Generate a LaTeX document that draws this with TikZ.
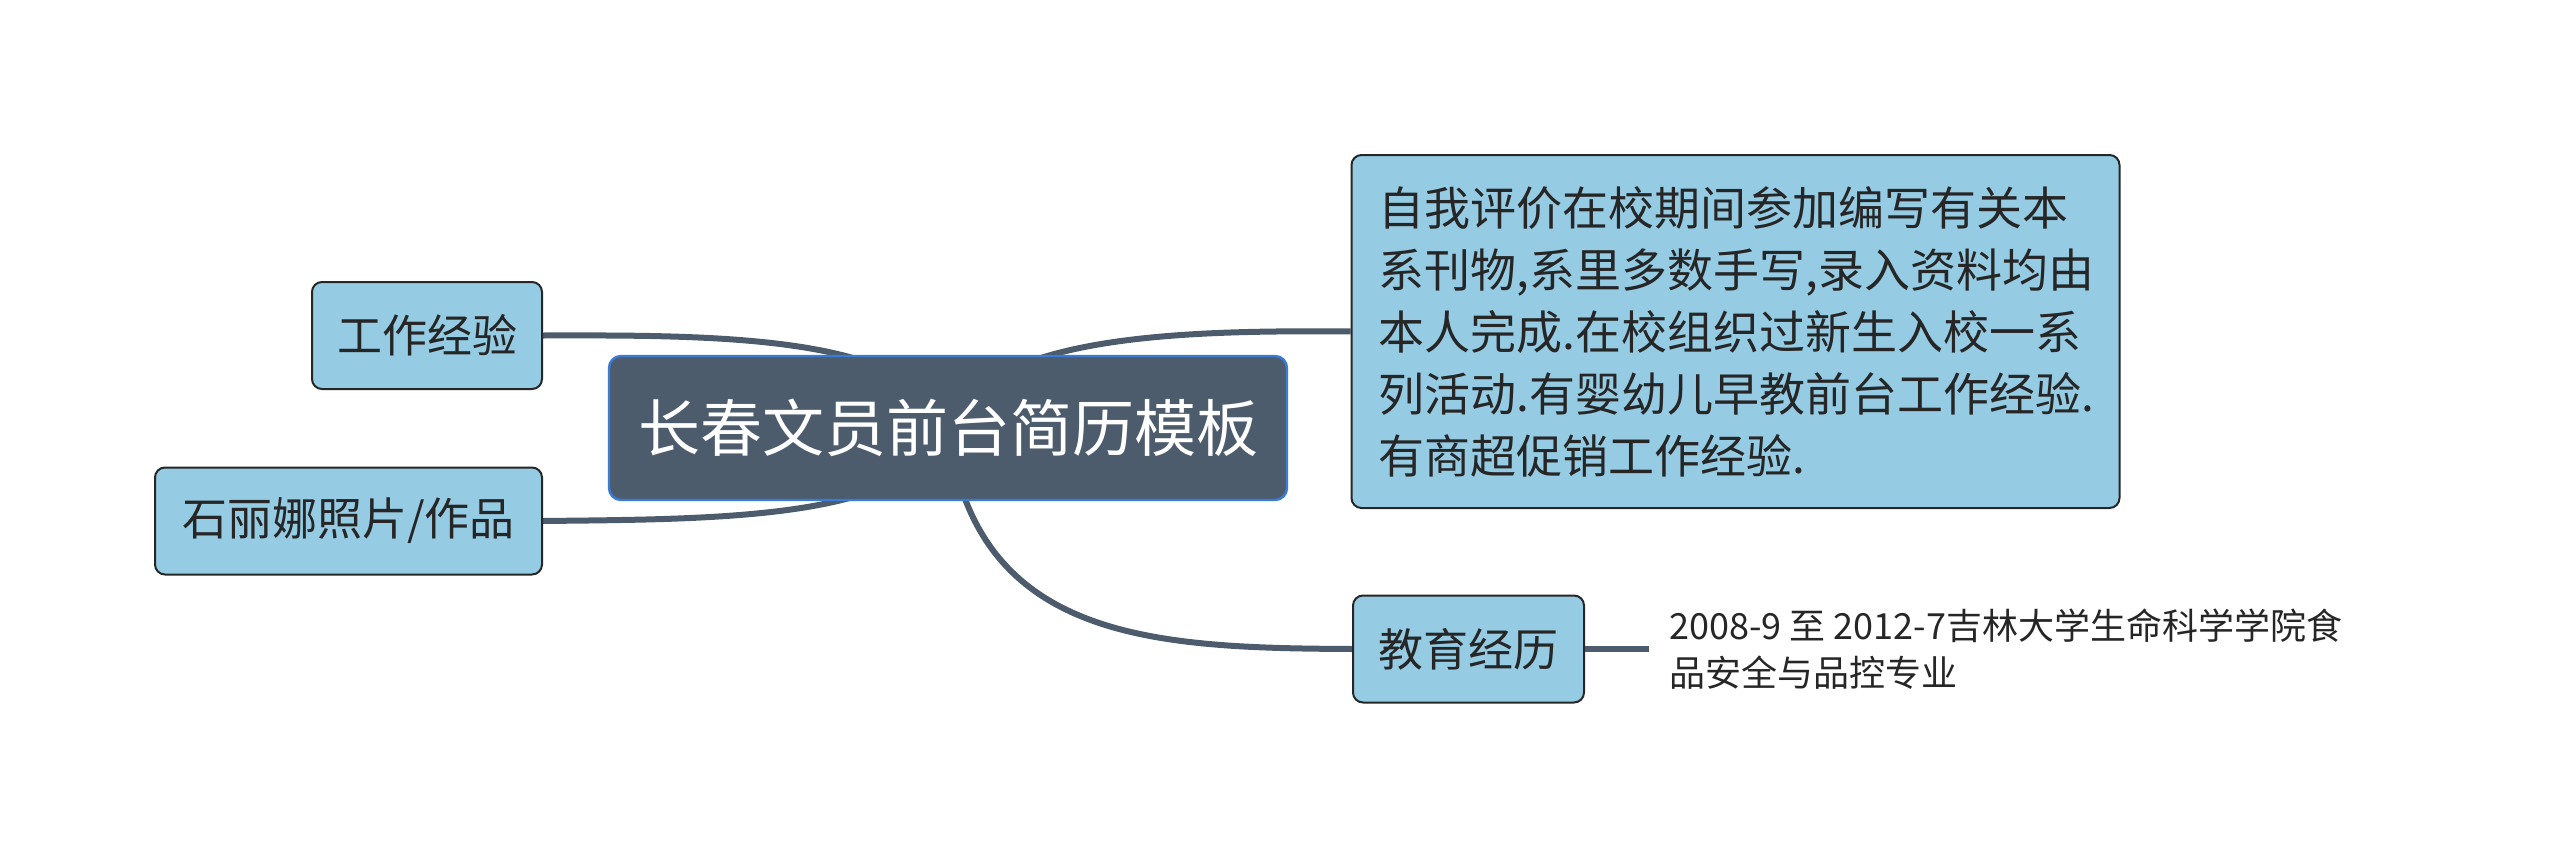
\documentclass[tikz,border=0pt]{standalone}
\usepackage{fontspec}
\setmainfont{Noto Sans CJK SC}
\usetikzlibrary{backgrounds}
\definecolor{rootfill}{HTML}{4D5C6D}
\definecolor{rootborder}{HTML}{3A7BD5}
\definecolor{boxfill}{HTML}{95CCE4}
\definecolor{linecol}{HTML}{4D5C6D}
\definecolor{txt}{HTML}{262626}
\begin{document}
\begin{tikzpicture}[x=0.5pt,y=-0.5pt,
  rootbox/.style={draw=rootborder, line width=1.2pt, fill=rootfill, rounded corners=6pt,
    text=white, font=\fontsize{31}{36}\selectfont, minimum width=339pt, minimum height=72pt, inner sep=0pt},
  topicbox/.style={draw=black!85, line width=1pt, fill=boxfill, rounded corners=5pt,
    text=txt, font=\fontsize{22.5}{27}\selectfont, minimum height=53.5pt, inner sep=0pt},
  conn/.style={draw=linecol, line width=3pt},
  plain/.style={text=txt, font=\fontsize{18}{23.5}\selectfont, align=left, inner xsep=10pt, inner ysep=0pt}
]
\useasboundingbox (0,0) rectangle (2560,867);
\node[rootbox] (root) at (948,428) {长春文员前台简历模板};
\node[topicbox, minimum width=115pt] (work) at (427,335.5) {工作经验};
\node[topicbox, minimum width=193.5pt] (photo) at (348.5,521) {石丽娜照片/作品};
\node[topicbox, minimum width=382.5pt, minimum height=176.5pt, align=left,
  font=\fontsize{23}{31}\selectfont, text width=357pt, inner xsep=13.5pt] (eval) at (1735.5,331.5)
  {自我评价在校期间参加编写有关本\\系刊物,系里多数手写,录入资料均由\\本人完成.在校组织过新生入校一系\\列活动.有婴幼儿早教前台工作经验.\\有商超促销工作经验.};
\node[topicbox, minimum width=115.5pt] (edu) at (1468.5,649) {教育经历};
\node[plain, anchor=west] (edutext) at (1649,649) {2008-9 至 2012-7吉林大学生命科学学院食\\品安全与品控专业};
\begin{scope}[on background layer]
\draw[conn] (root.center) .. controls (915,335) and (720,335) .. (work.east);
\draw[conn] (root.center) .. controls (915,520) and (720,519) .. (photo.east);
\draw[conn] (root.center) .. controls (985,335) and (1180,330) .. (eval.west);
\draw[conn] (root.center) .. controls (975,640) and (1150,648) .. (edu.west);
\end{scope}
\draw[conn] (edu.east) -- (edutext.west);
\end{tikzpicture}
\end{document}
